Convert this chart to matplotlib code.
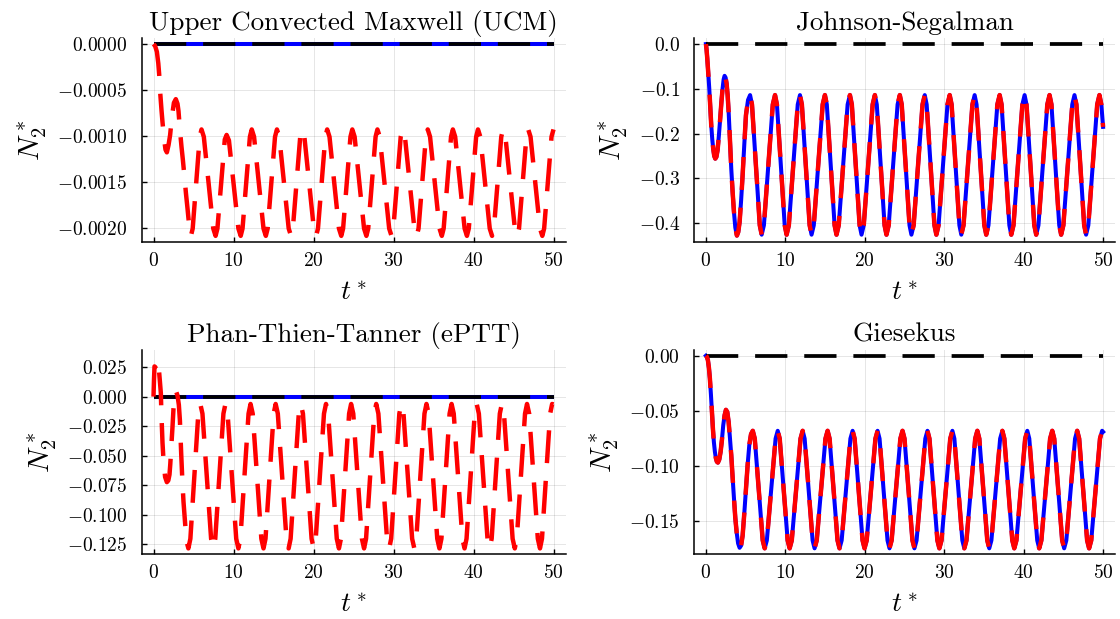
import matplotlib
matplotlib.use("Agg")
import matplotlib.pyplot as plt
import numpy as np

plt.rcParams["font.family"] = "serif"
plt.rcParams["font.serif"] = ["cmr10", "DejaVu Serif"]
plt.rcParams["mathtext.fontset"] = "cm"
plt.rcParams["axes.formatter.use_mathtext"] = True

# ---- data (t*, N2*) ----
t_zero = [0.0, 50.0]
n2_zero = [0.0, 0.0]

ucm_t = [0, 0.2, 0.42, 0.6, 0.71, 0.83, 1.0, 1.125, 1.33, 1.5, 1.67, 1.88, 2.08, 2.29, 2.55,
         2.79, 3.0, 3.125, 3.29, 3.5, 3.67, 3.875, 4.06, 4.25, 4.46, 4.68, 4.9, 5.78,
         6.00, 6.29, 7.47, 7.76, 7.99, 8.91,
         9.14, 9.43, 10.61, 10.90, 11.13, 12.05,
         12.28, 12.57, 13.75, 14.04, 14.27, 15.19,
         15.43, 15.72, 16.90, 17.19, 17.42, 18.34,
         18.57, 18.86, 20.04, 20.33, 20.56, 21.48,
         21.71, 22.00, 23.18, 23.47, 23.70, 24.62,
         24.85, 25.14, 26.32, 26.61, 26.84, 27.76,
         27.99, 28.28, 29.46, 29.75, 29.98, 30.90,
         31.14, 31.43, 32.61, 32.90, 33.13, 34.05,
         34.28, 34.57, 35.75, 36.04, 36.27, 37.19,
         37.42, 37.71, 38.89, 39.18, 39.41, 40.33,
         40.56, 40.85, 42.03, 42.32, 42.55, 43.47,
         43.70, 43.99, 45.17, 45.46, 45.69, 46.61,
         46.84, 47.13, 48.31, 48.60, 48.83, 49.75,
         50.0]
ucm_red = [0, -0.00002, -0.000083, -0.00021, -0.00033, -0.00052, -0.00072, -0.00085, -0.00104,
           -0.00115, -0.00118, -0.0011, -0.00099, -0.0008, -0.00064, -0.0006, -0.00065, -0.00073,
           -0.00092, -0.00112, -0.00126, -0.00145, -0.00163, -0.00179, -0.00198, -0.00209,
           -0.00201, -0.00101,
           -0.00093, -0.00101, -0.00201, -0.00209, -0.00201, -0.00104,
           -0.00099, -0.00105, -0.00201, -0.00209, -0.00201, -0.00101,
           -0.00093, -0.00101, -0.00201, -0.00209, -0.00201, -0.00101,
           -0.00093, -0.00101, -0.00201, -0.00209, -0.00201, -0.00101,
           -0.00093, -0.00101, -0.00201, -0.00209, -0.00201, -0.00101,
           -0.00093, -0.00101, -0.00201, -0.00209, -0.00201, -0.00101,
           -0.00093, -0.00101, -0.00201, -0.00209, -0.00201, -0.00101,
           -0.00093, -0.00101, -0.00201, -0.00209, -0.00201, -0.00101,
           -0.00093, -0.00101, -0.00201, -0.00209, -0.00201, -0.00101,
           -0.00093, -0.00101, -0.00201, -0.00209, -0.00201, -0.00101,
           -0.00093, -0.00101, -0.00201, -0.00209, -0.00201, -0.00101,
           -0.00093, -0.00101, -0.00201, -0.00209, -0.00201, -0.00101,
           -0.00093, -0.00101, -0.00201, -0.00209, -0.00201, -0.00101,
           -0.00093, -0.00101, -0.00201, -0.00209, -0.00201, -0.00101,
           -0.00093]

ptt_t = [0, 0.06, 0.125, 0.22, 0.33, 0.45, 0.54, 0.65, 0.8, 0.92, 0.98, 1.125, 1.25, 1.45,
         1.67, 1.85, 2.0, 2.1, 2.2, 2.375, 2.5, 2.65, 2.83, 3.0, 3.17, 3.3, 3.46, 3.6, 3.75,
         3.96, 4.15, 4.36, 4.61, 5.60,
         5.85, 6.12, 7.20, 7.47, 7.72, 8.74,
         8.99, 9.26, 10.34, 10.61, 10.86, 11.88,
         12.13, 12.40, 13.48, 13.75, 14.00, 15.02,
         15.27, 15.54, 16.62, 16.89, 17.14, 18.16,
         18.41, 18.68, 19.76, 20.03, 20.28, 21.31,
         21.56, 21.83, 22.91, 23.18, 23.43, 24.45,
         24.70, 24.97, 26.05, 26.32, 26.57, 27.59,
         27.84, 28.11, 29.19, 29.46, 29.71, 30.73,
         30.98, 31.25, 32.33, 32.60, 32.85, 33.87,
         34.12, 34.39, 35.47, 35.74, 35.99, 37.01,
         37.26, 37.53, 38.61, 38.88, 39.13, 40.15,
         40.40, 40.67, 41.75, 42.02, 42.27, 43.29,
         43.54, 43.81, 44.89, 45.16, 45.41, 46.44,
         46.69, 46.96, 48.04, 48.31, 48.56, 49.58,
         49.83, 50.0]
ptt_red = [0, 0.014, 0.0256, 0.025, 0.0236, 0.028, 0.0293, 0.025, 0.013, 0.0028, -0.013,
           -0.039, -0.054, -0.068, -0.0724, -0.071, -0.066, -0.057, -0.045, -0.0256, -0.01,
           0.001, 0.0043, 0.001, -0.007, -0.02, -0.048, -0.07, -0.089, -0.108, -0.123,
           -0.1285, -0.1203, -0.0144,
           -0.0062, -0.0144, -0.1203, -0.1285, -0.1203, -0.0144,
           -0.0062, -0.0144, -0.1203, -0.1285, -0.1203, -0.0144,
           -0.0062, -0.0144, -0.1203, -0.1285, -0.1203, -0.0144,
           -0.0062, -0.0144, -0.1203, -0.1285, -0.1203, -0.0144,
           -0.0062, -0.0144, -0.1203, -0.1285, -0.1203, -0.0144,
           -0.0062, -0.0144, -0.1203, -0.1285, -0.1203, -0.0144,
           -0.0062, -0.0144, -0.1203, -0.1285, -0.1203, -0.0144,
           -0.0062, -0.0144, -0.1203, -0.1285, -0.1203, -0.0144,
           -0.0062, -0.0144, -0.1203, -0.1285, -0.1203, -0.0144,
           -0.0062, -0.0144, -0.1203, -0.1285, -0.1203, -0.0144,
           -0.0062, -0.0144, -0.1203, -0.1285, -0.1203, -0.0144,
           -0.0062, -0.0144, -0.1203, -0.1285, -0.1203, -0.0144,
           -0.0062, -0.0144, -0.1203, -0.1285, -0.1203, -0.0144,
           -0.0062, -0.0144, -0.1203, -0.1285, -0.1203, -0.0144,
           -0.0062, -0.0066]

js_t = [0, 0.08, 0.17, 0.3, 0.42, 0.55, 0.67, 0.8, 0.92, 1.05, 1.18, 1.32, 1.47, 1.63, 1.8,
        1.95, 2.1, 2.23, 2.35, 2.48, 2.6, 2.73, 2.86, 3.02, 3.19, 3.36, 3.53, 3.7, 3.9, 4.07,
        4.24, 4.43, 4.62, 4.83, 5.04, 5.3,
        5.56, 5.80, 6.78, 7.02, 7.30, 8.42,
        8.70, 8.94, 9.92, 10.16, 10.44, 11.56,
        11.84, 12.08, 13.06, 13.30, 13.58, 14.70,
        14.98, 15.22, 16.20, 16.44, 16.72, 17.84,
        18.13, 18.37, 19.35, 19.59, 19.87, 20.99,
        21.27, 21.51, 22.49, 22.73, 23.01, 24.13,
        24.41, 24.65, 25.63, 25.87, 26.15, 27.27,
        27.55, 27.79, 28.77, 29.01, 29.29, 30.41,
        30.69, 30.93, 31.91, 32.15, 32.43, 33.55,
        33.83, 34.07, 35.05, 35.29, 35.57, 36.69,
        36.98, 37.22, 38.20, 38.44, 38.72, 39.84,
        40.12, 40.36, 41.34, 41.58, 41.86, 42.98,
        43.26, 43.50, 44.48, 44.72, 45.00, 46.12,
        46.40, 46.64, 47.62, 47.86, 48.14, 49.26,
        49.54, 49.78, 50.0]
js_n2 = [0, -0.012, -0.032, -0.066, -0.099, -0.141, -0.181, -0.213, -0.234, -0.25, -0.256,
         -0.252, -0.237, -0.205, -0.166, -0.13, -0.099, -0.079, -0.071, -0.075, -0.088,
         -0.113, -0.151, -0.212, -0.278, -0.33, -0.375, -0.41, -0.428, -0.42, -0.398, -0.35,
         -0.293, -0.225, -0.159, -0.125,
         -0.114, -0.135, -0.405, -0.426, -0.405, -0.135,
         -0.114, -0.135, -0.405, -0.426, -0.405, -0.135,
         -0.114, -0.135, -0.405, -0.426, -0.405, -0.135,
         -0.114, -0.135, -0.405, -0.426, -0.405, -0.135,
         -0.114, -0.135, -0.405, -0.426, -0.405, -0.135,
         -0.114, -0.135, -0.405, -0.426, -0.405, -0.135,
         -0.114, -0.135, -0.405, -0.426, -0.405, -0.135,
         -0.114, -0.135, -0.405, -0.426, -0.405, -0.135,
         -0.114, -0.135, -0.405, -0.426, -0.405, -0.135,
         -0.114, -0.135, -0.405, -0.426, -0.405, -0.135,
         -0.114, -0.135, -0.405, -0.426, -0.405, -0.135,
         -0.114, -0.135, -0.405, -0.426, -0.405, -0.135,
         -0.114, -0.135, -0.405, -0.426, -0.405, -0.135,
         -0.114, -0.135, -0.405, -0.426, -0.405, -0.135,
         -0.114, -0.135, -0.185]

gk_t = [0, 0.12, 0.25, 0.38, 0.5, 0.63, 0.76, 0.88, 1.0, 1.13, 1.26, 1.38, 1.51, 1.68, 1.85,
        2.02, 2.18, 2.35, 2.52, 2.69, 2.86, 3.02, 3.19, 3.36, 3.53, 3.7, 3.87, 4.05, 4.24,
        4.43, 4.62, 4.83, 5.04, 5.25, 5.46, 5.68,
        5.90, 6.15, 7.15, 7.40, 7.67, 8.77,
        9.04, 9.29, 10.29, 10.54, 10.81, 11.91,
        12.18, 12.43, 13.43, 13.68, 13.95, 15.05,
        15.32, 15.57, 16.57, 16.82, 17.09, 18.19,
        18.47, 18.72, 19.72, 19.97, 20.24, 21.34,
        21.61, 21.86, 22.86, 23.11, 23.38, 24.48,
        24.75, 25.00, 26.00, 26.25, 26.52, 27.62,
        27.89, 28.14, 29.14, 29.39, 29.66, 30.76,
        31.03, 31.28, 32.28, 32.53, 32.80, 33.90,
        34.17, 34.42, 35.42, 35.67, 35.94, 37.04,
        37.32, 37.57, 38.57, 38.82, 39.09, 40.19,
        40.46, 40.71, 41.71, 41.96, 42.23, 43.33,
        43.60, 43.85, 44.85, 45.10, 45.37, 46.47,
        46.74, 46.99, 47.99, 48.24, 48.51, 49.61,
        49.88, 50.0]
gk_n2 = [0, -0.001, -0.004, -0.011, -0.0206, -0.035, -0.051, -0.066, -0.078, -0.087, -0.093,
         -0.096, -0.0968, -0.094, -0.087, -0.076, -0.063, -0.054, -0.049, -0.051, -0.06,
         -0.074, -0.09, -0.11, -0.129, -0.147, -0.16, -0.17, -0.174, -0.172, -0.163, -0.143,
         -0.121, -0.099, -0.081, -0.071,
         -0.068, -0.0751, -0.1673, -0.1745, -0.1673, -0.0751,
         -0.068, -0.0751, -0.1673, -0.1745, -0.1673, -0.0751,
         -0.068, -0.0751, -0.1673, -0.1745, -0.1673, -0.0751,
         -0.068, -0.0751, -0.1673, -0.1745, -0.1673, -0.0751,
         -0.068, -0.0751, -0.1673, -0.1745, -0.1673, -0.0751,
         -0.068, -0.0751, -0.1673, -0.1745, -0.1673, -0.0751,
         -0.068, -0.0751, -0.1673, -0.1745, -0.1673, -0.0751,
         -0.068, -0.0751, -0.1673, -0.1745, -0.1673, -0.0751,
         -0.068, -0.0751, -0.1673, -0.1745, -0.1673, -0.0751,
         -0.068, -0.0751, -0.1673, -0.1745, -0.1673, -0.0751,
         -0.068, -0.0751, -0.1673, -0.1745, -0.1673, -0.0751,
         -0.068, -0.0751, -0.1673, -0.1745, -0.1673, -0.0751,
         -0.068, -0.0751, -0.1673, -0.1745, -0.1673, -0.0751,
         -0.068, -0.0751, -0.1673, -0.1745, -0.1673, -0.0751,
         -0.068, -0.069]

titles = ["Upper Convected Maxwell (UCM)", "Johnson-Segalman",
          "Phan-Thien-Tanner (ePTT)", "Giesekus"]
x_ticks = [0, 10, 20, 30, 40, 50]
ucm_yticks = [0.0, -0.0005, -0.0010, -0.0015, -0.0020]
js_yticks = [0.0, -0.1, -0.2, -0.3, -0.4]
ptt_yticks = [0.025, 0.0, -0.025, -0.05, -0.075, -0.1, -0.125]
gk_yticks = [0.0, -0.05, -0.10, -0.15]


def fmt(v, nd):
    s = f"{abs(v):.{nd}f}"
    return f"$-{s}$" if v < 0 else f"${s}$"


fig = plt.figure(figsize=(11.2, 6.19), dpi=100)
W, H = 1120, 619
# axes boxes in pixels: left, right, top, bottom
boxes = [(141.5, 565.5, 38.3, 242.3), (694.0, 1115.0, 38.3, 242.3),
         (141.5, 565.5, 350.0, 554.3), (694.0, 1115.0, 350.0, 554.3)]
axes = []
for l, r, t, b in boxes:
    axes.append(fig.add_axes([l / W, 1 - b / H, (r - l) / W, (b - t) / H]))

black_dash = (0, (8.6, 4.5))
red_dash = (0, (7.4, 4.0))

panels = [
    (ucm_t, ucm_red, None, ucm_yticks, 4, (-0.00216, 0.000063)),
    (js_t, js_n2, js_n2, js_yticks, 1, (-0.443, 0.0129)),
    (ptt_t, ptt_red, None, ptt_yticks, 3, (-0.1335, 0.0395)),
    (gk_t, gk_n2, gk_n2, gk_yticks, 2, (-0.1799, 0.0052)),
]

for ax, title, (tt, red, blue, yt, nd, ylim) in zip(axes, titles, panels):
    if blue is None:
        ax.plot(t_zero, n2_zero, color="blue", lw=2.9, solid_capstyle="butt")
    else:
        ax.plot(tt, blue, color="blue", lw=2.9)
    ax.plot(t_zero, n2_zero, color="black", lw=2.7, linestyle=black_dash,
            dash_capstyle="butt")
    ax.plot(tt, red, color="red", lw=3.2, linestyle=red_dash, dash_capstyle="butt")

    ax.set_xlim(-1.5, 51.5)
    ax.set_ylim(*ylim)
    ax.set_xticks(x_ticks, labels=[f"${v}$" for v in x_ticks])
    ax.set_yticks(yt, labels=[fmt(v, nd) for v in yt])
    ax.grid(True, color="black", alpha=0.1, lw=0.7)
    ax.set_axisbelow(True)
    for s in ["top", "right"]:
        ax.spines[s].set_visible(False)
    for s in ["left", "bottom"]:
        ax.spines[s].set_linewidth(1.1)
    ax.tick_params(direction="in", length=3.5, width=1.0, labelsize=14)
    ax.tick_params(axis="x", pad=7)
    ax.tick_params(axis="y", pad=10)
    ax.set_title(title, fontsize=19.5, pad=6)
    ax.set_xlabel(r"$t^*$", fontsize=20, labelpad=7)
    ax.set_ylabel(r"$N_2^*$", fontsize=21, labelpad=6)

fig.savefig("out.png", dpi=100)
